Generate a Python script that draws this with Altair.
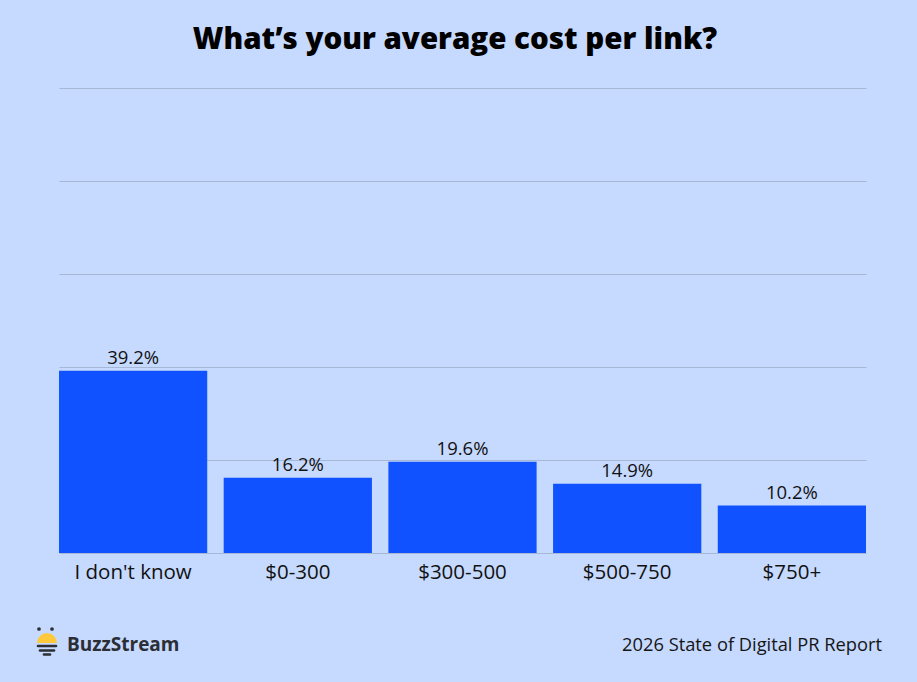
import altair as alt
import pandas as pd

# Survey answers and their shares (%)
categories = ["I don't know", "$0-300", "$300-500", "$500-750", "$750+"]
shares = [39.2, 16.2, 19.6, 14.9, 10.2]
share_labels = ["39.2%", "16.2%", "19.6%", "14.9%", "10.2%"]

title_text = "What\u2019s your average cost per link?"
brand_text = "BuzzStream"
report_text = "2026 State of Digital PR Report"

BG = "#C6D9FE"
BAR = "#1052FF"
GRID = "#A7B7D6"
FONT = "Open Sans"

df = pd.DataFrame({"answer": categories, "share": shares, "label": share_labels})

x_enc = alt.X(
    "answer:N",
    sort=categories,
    title=None,
    scale=alt.Scale(paddingInner=0.1, paddingOuter=0),
    axis=alt.Axis(
        labelAngle=0,
        labelFontSize=20.5,
        labelFont=FONT,
        labelColor="#111111",
        labelPadding=9,
        ticks=False,
        domain=False,
        grid=False,
    ),
)
y_enc = alt.Y(
    "share:Q",
    title=None,
    scale=alt.Scale(domain=[0, 100]),
    axis=alt.Axis(
        values=[0, 20, 40, 60, 80, 100],
        labels=False,
        ticks=False,
        domain=False,
        grid=True,
        gridColor=GRID,
        gridWidth=1,
    ),
)

bars = alt.Chart(df).mark_bar(color=BAR).encode(x=x_enc, y=y_enc)

values = alt.Chart(df).mark_text(
    baseline="bottom", dy=-3, fontSize=18.5, font=FONT, color="#111111"
).encode(x=alt.X("answer:N", sort=categories), y="share:Q", text="label:N")

one = pd.DataFrame({"k": [0]})

title = alt.Chart(one).mark_text(
    text=title_text, font=FONT, fontSize=29.5, fontWeight=800, color="#000000",
    align="center", baseline="alphabetic",
).encode(x=alt.value(396), y=alt.value(-39))

report = alt.Chart(one).mark_text(
    text=report_text, font=FONT, fontSize=18.3, fontWeight=500, color="#151515",
    align="right", baseline="middle",
).encode(x=alt.value(823), y=alt.value(558))

brand = alt.Chart(one).mark_text(
    text=brand_text, font=FONT, fontSize=19, fontWeight=700, color="#2B2E35",
    align="left", baseline="middle",
).encode(x=alt.value(8), y=alt.value(557))

# Logo: bee-like icon (two dots, yellow dome, dark stripes)
dots = alt.Chart(pd.DataFrame({"px": [-20, -7]})).mark_circle(
    color="#2B2E35", size=14, opacity=1
).encode(x=alt.X("px:Q", scale=None), y=alt.value(541))

dome = alt.Chart(one).mark_arc(
    color="#FFC83D", radius=10, theta=4.7124, theta2=7.8540
).encode(x=alt.value(-12), y=alt.value(555))

stripes_df = pd.DataFrame({
    "x1": [-21, -19, -15],
    "x2": [-3, -5, -9],
    "yy": [558, 562.5, 566.5],
})
stripes = alt.Chart(stripes_df).mark_rule(
    color="#2B2E35", strokeWidth=2.6, strokeCap="round"
).encode(
    x=alt.X("x1:Q", scale=None),
    x2="x2:Q",
    y=alt.Y("yy:Q", scale=None),
)

chart = alt.layer(bars, values, title, report, brand, dots, dome, stripes).properties(
    width=807,
    height=465,
    background=BG,
    padding={"left": 59, "top": 88, "right": 51, "bottom": 129},
    autosize=alt.AutoSizeParams(type="none"),
).configure_view(stroke=None)

chart.save("out.html", embed_options={"renderer": "svg", "actions": False})
